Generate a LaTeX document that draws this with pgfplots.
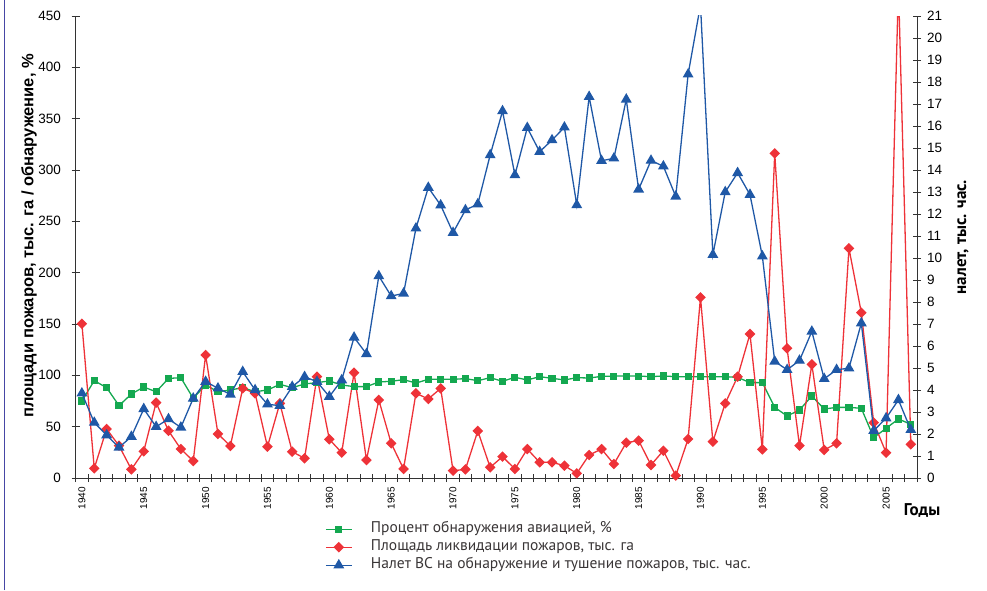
\documentclass[border=0pt]{standalone}
\usepackage{pgfplots}
\usepackage{pgfplotstable}
\pgfplotsset{compat=1.18}
\usepackage{fontspec}
\setmainfont{Liberation Sans}
\newfontfamily\ptsans{PT Sans}
\definecolor{cgreen}{RGB}{20,168,80}
\definecolor{cred}{RGB}{238,50,56}
\definecolor{cblue}{RGB}{31,88,166}
\definecolor{txt}{RGB}{35,31,32}
\definecolor{frame}{RGB}{70,70,165}

\pgfplotstableread{
year green red blue
1940 75 150.3 3.85
1941 94.8 9.4 2.52
1942 88 47.7 1.95
1943 70.5 31.5 1.39
1944 81.8 8.4 1.88
1945 88.6 26 3.14
1946 84 73.4 2.33
1947 97 46 2.68
1948 97.7 28.2 2.3
1949 77.6 16.6 3.62
1950 90.6 119.8 4.38
1951 84 42.9 4.08
1952 85.7 31.2 3.8
1953 88 87.3 4.83
1954 84 82.5 4.0
1955 85.7 30.5 3.35
1956 91.2 72.7 3.29
1957 88 25.6 4.15
1958 91.6 19.2 4.6
1959 92.9 98.7 4.38
1960 94.5 37.7 3.7
1961 90.6 24.7 4.45
1962 89 102.6 6.39
1963 89 17.5 5.64
1964 93.5 76 9.18
1965 94.2 33.8 8.27
1966 95.8 8.8 8.39
1967 92.5 82.5 11.35
1968 96.1 77 13.2
1969 96.1 87.3 12.4
1970 96.1 7.1 11.15
1971 96.8 8.4 12.18
1972 94.8 45.8 12.45
1973 97.7 10.4 14.68
1974 94.2 20.8 16.68
1975 98.1 8.8 13.77
1976 95.5 28.2 15.92
1977 98.7 15.3 14.83
1978 97.1 15.3 15.36
1979 95.5 12 15.94
1980 97.7 4.5 12.41
1981 97.4 22.4 17.33
1982 99 28.2 14.42
1983 99.3 13.6 14.53
1984 99.3 34.4 17.21
1985 99.3 36.4 13.12
1986 98.7 12.7 14.43
1987 99.4 26.6 14.17
1988 98.7 2.3 12.8
1989 98.7 38 18.35
1990 98.7 176 21.5
1991 98.7 35.4 10.15
1992 98.7 72.7 13.0
1993 98 98.7 13.87
1994 92.9 140.3 12.88
1995 92.9 27.9 10.08
1996 68.8 316.2 5.3
1997 60.4 126.3 4.92
1998 66.2 31.5 5.34
1999 79.9 110.7 6.66
2000 67.2 27.3 4.51
2001 68.8 33.8 4.92
2002 68.8 223.7 4.99
2003 67.9 161 7.04
2004 39.3 53.9 2.15
2005 48.4 24.7 2.72
2006 57.5 480 3.55
2007 52.3 32.8 2.19
}\data

\pgfplotsset{
  common/.style={
    scale only axis, width=841.3pt, height=462pt,
    xmin=1939.5, xmax=2007.5,
    axis line style={line width=1pt, color=black!80},
    tick align=center, major tick length=8pt,
    tick style={line width=0.8pt, color=black!80},
    /pgf/number format/1000 sep={},
    /pgf/number format/assume math mode=true,
  },
  gstyle/.style={color=cgreen, line width=1.3pt, mark=square*, mark size=2.9pt, mark options={solid}},
  rstyle/.style={color=cred, line width=1.3pt, mark=square*, mark size=3.1pt, mark options={solid, rotate=45}},
  bstyle/.style={color=cblue, line width=1.3pt, mark=triangle*, mark size=5pt, mark options={solid}},
}

\begin{document}
\begin{tikzpicture}
\path[use as bounding box] (-75.7pt,-112pt) rectangle (911.3pt,478pt);
\draw[color=frame, line width=1pt] (-70.7pt,-112pt) -- (-70.7pt,478pt);
\begin{axis}[common,
  ymin=0, ymax=450,
  axis x line*=bottom, axis y line*=left,
  xtick={1939.5,1940.5,...,2007.5}, xticklabels={},
  extra x ticks={1940,1945,...,2005},
  extra x tick style={major tick length=0pt},
  xticklabel style={rotate=90, anchor=east, inner sep=0pt, font=\fontsize{10}{12}\selectfont, xshift=0pt},
  xticklabel shift=9pt,
  ytick={0,50,...,450},
  yticklabel style={anchor=east, inner sep=0pt, xshift=-10.5pt, font=\fontsize{13.5}{16}\selectfont},
  every axis y label/.style={at={(axis description cs:-0.0555,0.524)}, anchor=center, rotate=90},
  ylabel={\bfseries\fontsize{16.5}{19}\selectfont площади пожаров, тыс. га / обнаружение, \%},
  legend style={at={(0.2963,-0.0931)}, anchor=north west, draw=none, fill=none,
    font=\ptsans\fontsize{15.5}{18}\selectfont, text=txt!90, legend cell align=left,
    row sep=2pt, column sep=17pt, inner sep=0pt,
    nodes={inner sep=1.5pt, text height=10pt, text depth=3pt}},
  legend image code/.code={\draw[mark repeat=2,mark phase=2] plot coordinates {(0pt,0pt) (13pt,0pt) (26pt,0pt)};},
]
\addplot[gstyle] table[x=year, y=green] {\data};
\addlegendentry{Процент обнаружения авиацией, \%}
\addplot[rstyle] table[x=year, y=red] {\data};
\addlegendentry{Площадь ликвидации пожаров, тыс. га}
\addlegendimage{bstyle}
\addlegendentry{Налет ВС на обнаружение и тушение пожаров, тыс. час.}
\end{axis}
\begin{axis}[common,
  ymin=0, ymax=21,
  axis x line=none, axis y line*=right,
  ytick={0,1,...,21},
  yticklabel style={anchor=west, inner sep=0pt, xshift=6pt, font=\fontsize{13.5}{16}\selectfont},
  every axis y label/.style={at={(axis description cs:1.0547,0.5216)}, anchor=center, rotate=90},
  ylabel={\ptsans\bfseries\fontsize{17}{20}\selectfont налет, тыс. час.},
]
\addplot[bstyle] table[x=year, y=blue] {\data};
\end{axis}
\node[font=\ptsans\bfseries\fontsize{17}{20}\selectfont, anchor=center] at (846.3pt,-33pt) {Годы};
\end{tikzpicture}
\end{document}
